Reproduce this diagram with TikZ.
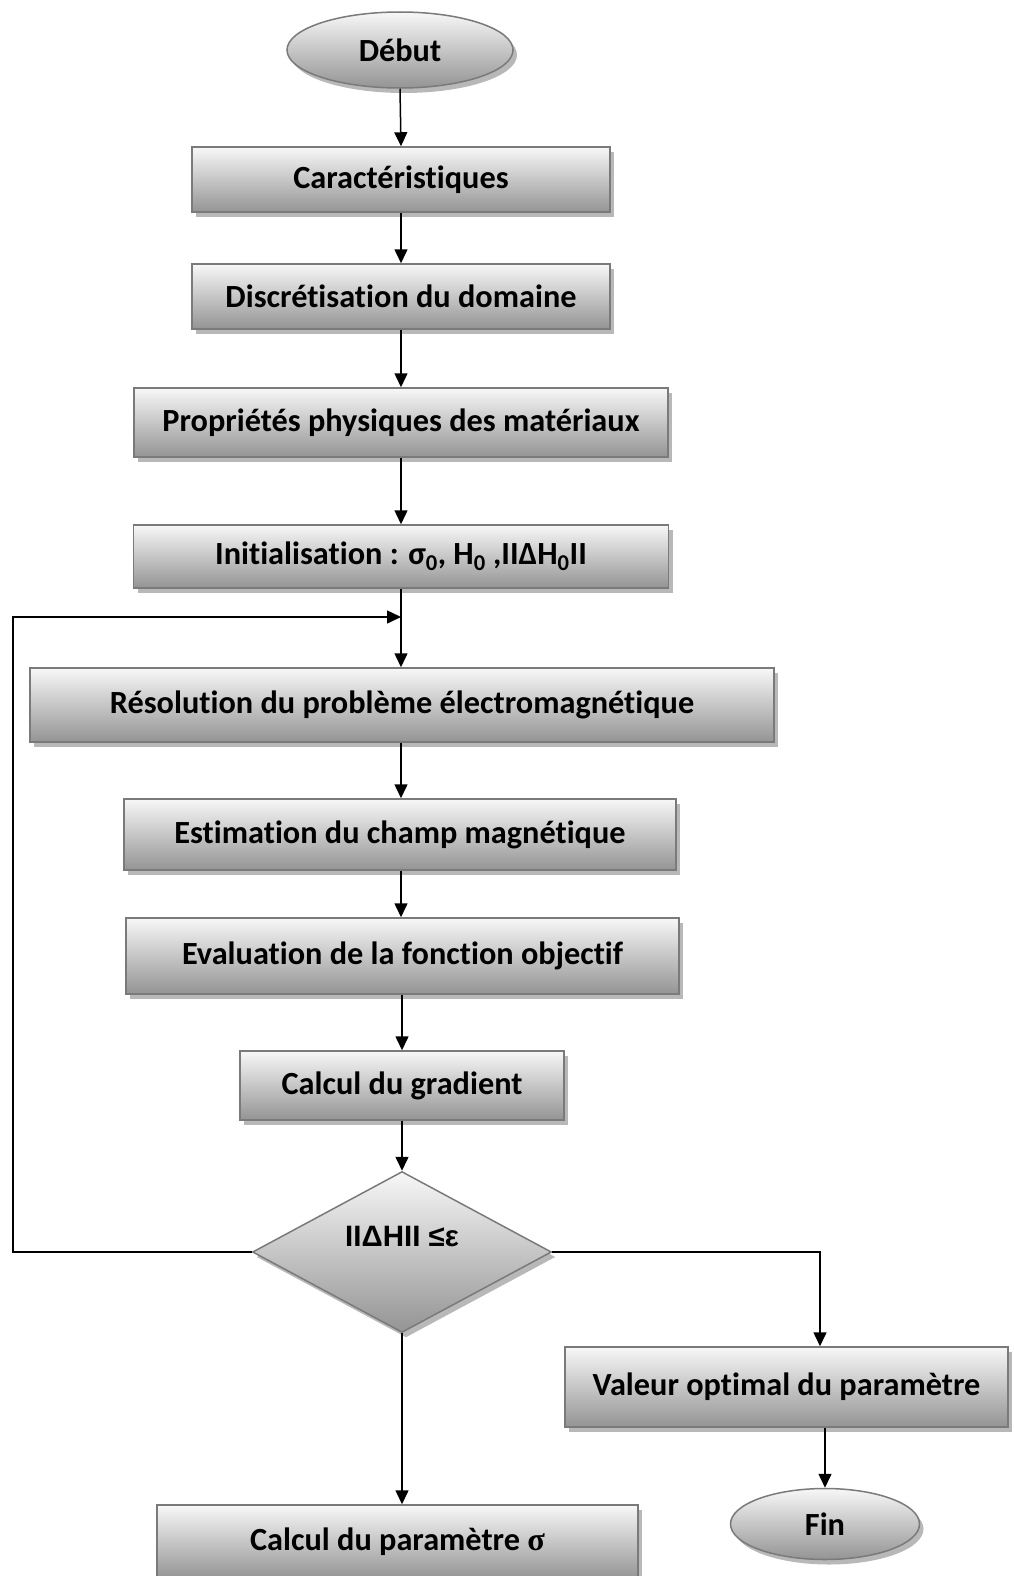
\documentclass[tikz,border=0pt]{standalone}
\usepackage{fontspec}
\setmainfont[Ligatures=CommonOff]{Carlito}
\newfontfamily\arialb{Liberation Sans}
\newfontfamily\serifb{Liberation Serif}
\usetikzlibrary{shapes.geometric,shadows,arrows.meta}
\tikzset{
  shd/.style={drop shadow={shadow xshift=4pt,shadow yshift=-5pt,fill=black!28,opacity=1}},
  stepbox/.style={rectangle,draw=black!52,line width=1.5pt,top color=black!3,bottom color=black!42,
    inner sep=0pt,font=\fontsize{32.3}{37}\selectfont\bfseries,shd},
  term/.style={ellipse,draw=black!52,line width=1.5pt,top color=black!3,bottom color=black!42,
    inner sep=0pt,font=\fontsize{32.3}{37}\selectfont\bfseries,shd},
  decis/.style={diamond,draw=black!52,line width=1.5pt,top color=black!3,bottom color=black!42,
    inner sep=0pt,aspect=1.86,font=\fontsize{29.5}{34}\selectfont\arialb\bfseries,shd},
  arr/.style={draw=black,line width=1.5pt,-{Triangle[length=14pt,width=13pt]}},
  ln/.style={draw=black,line width=1.5pt}
}
\begin{document}
\begin{tikzpicture}[x=1pt,y=-1pt]
\useasboundingbox (0,0) rectangle (1013,1576);
\node[term,minimum width=226pt,minimum height=76pt] (deb) at (400,50) {Début};
\node[stepbox,minimum width=418pt,minimum height=65pt] (car) at (401,179.5) {Caractéristiques};
\node[stepbox,minimum width=418pt,minimum height=65pt] (dis) at (401,296.5) {Discrétisation du domaine};
\node[stepbox,minimum width=534pt,minimum height=69pt] (pro) at (401,422.5) {Propriétés physiques des matériaux};
\node[stepbox,minimum width=535pt,minimum height=63pt] (ini) at (401,556.5) {Initialisation : σ\textsubscript{0}, H\textsubscript{0} ,IIΔH\textsubscript{0}II};
\node[stepbox,minimum width=744pt,minimum height=74pt] (res) at (402,705) {Résolution du problème électromagnétique};
\node[stepbox,minimum width=552pt,minimum height=71pt] (est) at (400,834.5) {Estimation du champ magnétique};
\node[stepbox,minimum width=553pt,minimum height=76pt] (eva) at (402.5,956) {Evaluation de la fonction objectif};
\node[stepbox,minimum width=324pt,minimum height=69pt] (gra) at (402,1085.5) {Calcul du gradient};
\node[decis,minimum width=299pt,minimum height=161pt] (dia) at (402,1252) {\raisebox{32pt}{IIΔHII ≤ε}};
\node[stepbox,minimum width=443pt,minimum height=80pt] (val) at (786.5,1387) {Valeur optimal du paramètre};
\node[term,minimum width=189pt,minimum height=71pt] (fin) at (825,1524) {Fin};
\node[stepbox,minimum width=481pt,minimum height=74pt] (cal) at (397.5,1542) {Calcul du paramètre {\serifb σ}};
\coordinate (j) at (401,617);
\coordinate (lb) at (13,1252);
\coordinate (lt) at (13,617);
\draw[arr] (deb.south) -- (car.north);
\draw[arr] (car.south) -- (dis.north);
\draw[arr] (dis.south) -- (pro.north);
\draw[arr] (pro.south) -- (ini.north);
\draw[arr] (ini.south) -- (res.north -| ini.south);
\draw[arr] (dia.west) -- (lb) -- (lt) -- (j);
\draw[arr] (res.south -| j) -- (est.north -| j);
\draw[arr] (est.south -| j) -- (eva.north -| j);
\draw[arr] (eva.south -| gra.south) -- (gra.north);
\draw[arr] (gra.south) -- (dia.north);
\draw[arr] (dia.south) -- (cal.north -| dia.south);
\draw[arr] (dia.east) -| ([xshift=33.5pt]val.north);
\draw[arr] (val.south -| fin.north) -- (fin.north);
\end{tikzpicture}
\end{document}
